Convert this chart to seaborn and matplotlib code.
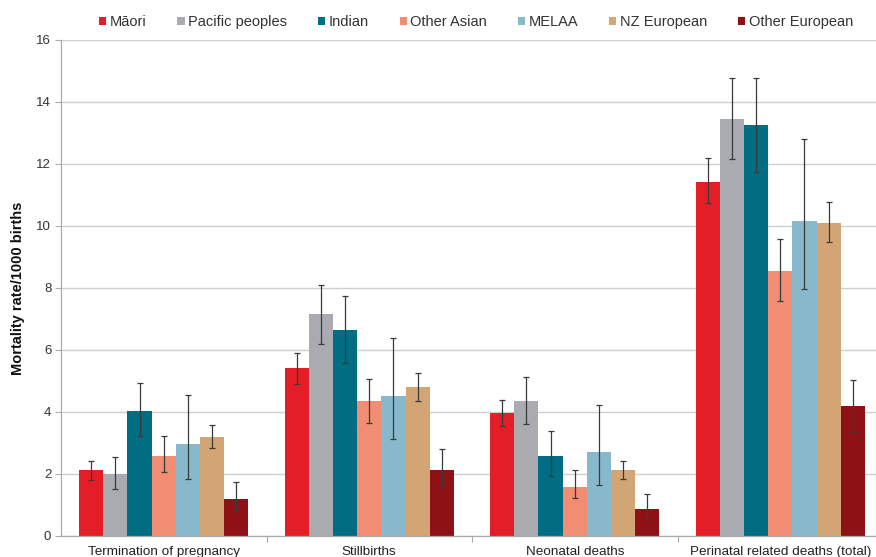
import numpy as np
import pandas as pd
import matplotlib
matplotlib.use("Agg")
import matplotlib.pyplot as plt
from matplotlib.patches import Patch
import seaborn as sns

# Outcome categories and ethnic groups
categories = ["Termination of pregnancy", "Stillbirths", "Neonatal deaths",
              "Perinatal related deaths (total)"]
groups = ["Māori", "Pacific peoples", "Indian", "Other Asian", "MELAA",
          "NZ European", "Other European"]

# Rates per 1000 births, one list per group (order follows categories)
maori = [2.12, 5.42, 3.98, 11.43]
pacific = [1.99, 7.16, 4.37, 13.46]
indian = [4.03, 6.65, 2.59, 13.25]
other_asian = [2.59, 4.35, 1.59, 8.56]
melaa = [2.97, 4.53, 2.71, 10.16]
nz_european = [3.20, 4.82, 2.12, 10.11]
other_european = [1.19, 2.13, 0.88, 4.20]

# 95% confidence limits (lower, upper)
maori_ci = [(1.81, 2.42), (4.90, 5.91), (3.55, 4.39), (10.73, 12.19)]
pacific_ci = [(1.52, 2.56), (6.19, 8.11), (3.61, 5.12), (12.16, 14.78)]
indian_ci = [(3.24, 4.95), (5.57, 7.74), (1.95, 3.39), (11.74, 14.78)]
other_asian_ci = [(2.07, 3.23), (3.63, 5.06), (1.21, 2.12), (7.59, 9.57)]
melaa_ci = [(1.83, 4.55), (3.12, 6.39), (1.63, 4.24), (7.97, 12.80)]
nz_european_ci = [(2.83, 3.57), (4.37, 5.25), (1.83, 2.42), (9.49, 10.77)]
other_european_ci = [(0.84, 1.73), (1.59, 2.80), (0.55, 1.35), (3.36, 5.04)]

colors = ["#e41e26", "#a9abb0", "#006d82", "#f08d72", "#88b8cb",
          "#d4a574", "#8e1116"]

values = [maori, pacific, indian, other_asian, melaa, nz_european, other_european]
cis = [maori_ci, pacific_ci, indian_ci, other_asian_ci, melaa_ci,
       nz_european_ci, other_european_ci]

rows = []
for g, vals in zip(groups, values):
    for c, v in zip(categories, vals):
        rows.append({"category": c, "group": g, "rate": v})
df = pd.DataFrame(rows)

sns.set_theme(style="white")
plt.rcParams["font.family"] = ["Liberation Sans", "DejaVu Sans"]

fig = plt.figure(figsize=(8.76, 5.57), dpi=100)
ax = fig.add_axes([61 / 876, 21 / 557, 822 / 876, 496 / 557])

sns.barplot(data=df, x="category", y="rate", hue="group", order=categories,
            hue_order=groups, palette=colors, width=7 / 8.5, saturation=1,
            errorbar=None, ax=ax, legend=False, linewidth=0)

# Confidence interval whiskers
for cont, vals, ci in zip(ax.containers, values, cis):
    xs = [b.get_x() + b.get_width() / 2 for b in cont]
    lo = [v - c[0] for v, c in zip(vals, ci)]
    hi = [c[1] - v for v, c in zip(vals, ci)]
    ax.errorbar(xs, vals, yerr=[lo, hi], fmt="none", ecolor="#3a3a3a",
                elinewidth=0.9, capsize=2.5, capthick=0.9, zorder=5)

ax.set_ylim(0, 16)
ax.set_xlim(-0.5, 3.5)
ax.set_yticks(np.arange(0, 17, 2))
ax.yaxis.grid(True, color="#cfcfcf", linewidth=1.0)
ax.set_axisbelow(True)
ax.set_xlabel("")
ax.set_ylabel("Mortality rate/1000 births", fontsize=10.5, fontweight="bold",
              color="#111111", labelpad=8)

ax.set_xticks(range(len(categories)))
ax.set_xticklabels(categories, fontsize=9.7, color="#222222")
ax.set_xticks([0.5, 1.5, 2.5], minor=True)
ax.tick_params(axis="x", which="major", length=0, pad=7)
ax.tick_params(axis="x", which="minor", length=4, color="#aaaaaa", width=0.8,
               bottom=True)
ax.tick_params(axis="y", labelsize=9.5, labelcolor="#333333", length=4,
               color="#aaaaaa", width=0.8, left=True, pad=3)

for side in ["top", "right"]:
    ax.spines[side].set_visible(False)
for side in ["left", "bottom"]:
    ax.spines[side].set_color("#aaaaaa")
    ax.spines[side].set_linewidth(0.9)

handles = [Patch(facecolor=c, edgecolor="none", label=g)
           for c, g in zip(colors, groups)]
fig.legend(handles=handles, loc="center", bbox_to_anchor=(476 / 876, 1 - 22 / 557),
           ncol=7, frameon=False, fontsize=10.5, handlelength=0.5,
           handleheight=0.5, handletextpad=0.25, columnspacing=2.1,
           labelcolor="#333333")

fig.savefig("out.png", dpi=100)
